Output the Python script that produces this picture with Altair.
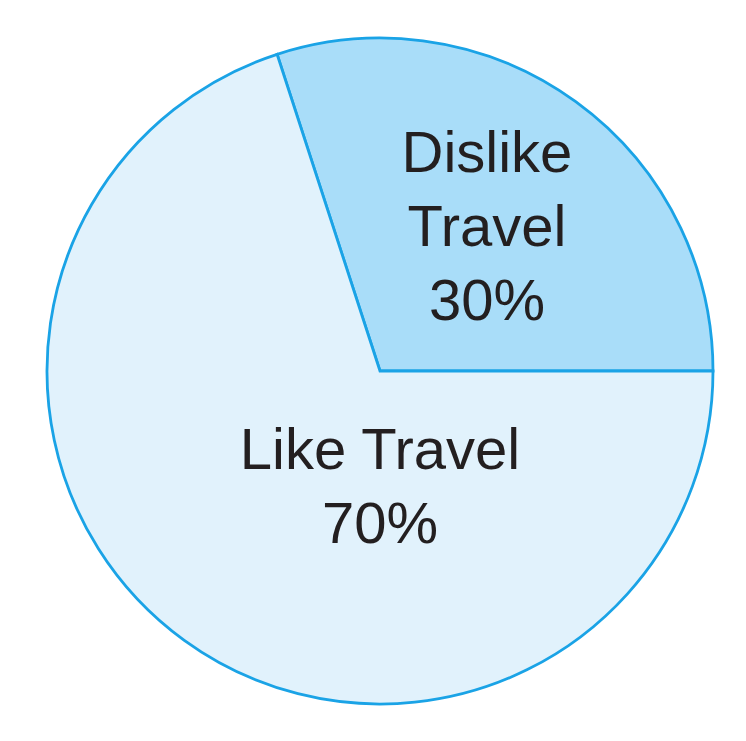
import math
import altair as alt
import pandas as pd

categories = ["Dislike Travel", "Like Travel"]
shares = [30, 70]
labels = ["Dislike\nTravel\n30%", "Like Travel\n70%"]
fills = ["#a9ddf9", "#e1f2fc"]

# label placement (polar, relative to pie centre; first line of each label)
label_angle_deg = [26.35, 180.0]
label_radius = [241, 81]

pie = pd.DataFrame({"category": categories, "share": shares, "order": [0, 1]})
lab = pd.DataFrame({
    "label": labels,
    "angle": [math.radians(a) for a in label_angle_deg],
    "r": label_radius,
})

CX, CY, R = 372, 363, 333
start = math.radians(342)

arcs = alt.Chart(pie).mark_arc(
    outerRadius=R, stroke="#1aa3e6", strokeWidth=2.8, strokeJoin="miter"
).encode(
    theta=alt.Theta("share:Q", stack=True,
                    scale=alt.Scale(range=[start, start + 2 * math.pi])),
    order=alt.Order("order:Q"),
    color=alt.Color("category:N", scale=alt.Scale(domain=categories, range=fills), legend=None),
    x=alt.value(CX),
    y=alt.value(CY),
)

text = alt.Chart(lab).mark_text(
    font="Liberation Sans", fontSize=58, color="#231f20",
    lineBreak="\n", lineHeight=74, align="center", baseline="middle",
).encode(
    text="label:N",
    theta=alt.Theta("angle:Q", scale=None),
    radius=alt.Radius("r:Q", scale=None),
    x=alt.value(CX),
    y=alt.value(CY),
)

chart = alt.layer(arcs, text).properties(
    width=730, height=725, padding=0, autosize="none", background="white"
).configure_view(stroke=None)

chart.save("out.html", embed_options={"renderer": "svg", "actions": False})
